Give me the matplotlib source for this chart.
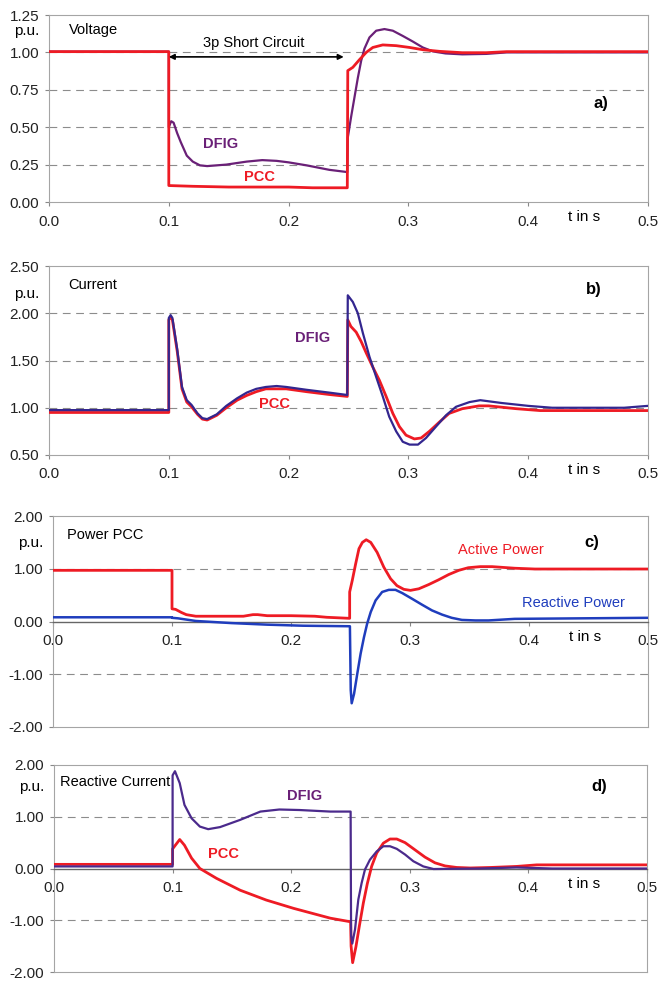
import matplotlib
matplotlib.use("Agg")
import matplotlib.pyplot as plt
import matplotlib.transforms as mtransforms

plt.rcParams['font.family'] = ['Liberation Sans', 'DejaVu Sans']
plt.rcParams['axes.unicode_minus'] = False

RED = '#ee1b24'
PURPLE = '#6a2077'
DBLUE = '#33268f'
BLUE = '#1f3dbd'

# ---- a) voltage ----
t_v_pcc = [0, 0.1, 0.1, 0.12, 0.15, 0.2, 0.22, 0.249, 0.2494, 0.2536, 0.259, 0.2648, 0.2703, 0.2786, 0.2898,
           0.301, 0.312, 0.326, 0.345, 0.365, 0.382, 0.5]
v_pcc = [1.005, 1.005, 0.11, 0.105, 0.10, 0.10, 0.095, 0.095, 0.878, 0.90, 0.95, 1.0, 1.033, 1.05, 1.045,
         1.033, 1.018, 1.007, 0.998, 0.998, 1.005, 1.005]

t_v_dfig = [0, 0.1, 0.1, 0.102, 0.104, 0.107, 0.110, 0.115, 0.12, 0.126, 0.132, 0.148, 0.165, 0.178, 0.19, 0.2,
            0.215, 0.234, 0.249, 0.2494, 0.2522, 0.255, 0.2578, 0.2606, 0.2633, 0.2675, 0.2731, 0.28, 0.287,
            0.2953, 0.3036, 0.312, 0.3203, 0.331, 0.345, 0.365, 0.382, 0.5]
v_dfig = [1.005, 1.005, 0.50, 0.54, 0.53, 0.46, 0.40, 0.31, 0.27, 0.245, 0.24, 0.25, 0.27, 0.28, 0.275, 0.265,
          0.245, 0.215, 0.20, 0.43, 0.57, 0.70, 0.83, 0.945, 1.025, 1.10, 1.145, 1.156, 1.145,
          1.11, 1.073, 1.033, 1.007, 0.993, 0.987, 0.99, 1.0, 1.0]

# ---- b) current ----
t_i_pcc = [0, 0.1, 0.1, 0.1015, 0.103, 0.107, 0.111, 0.115, 0.119, 0.124, 0.128, 0.132, 0.14, 0.148, 0.157,
           0.165, 0.173, 0.181, 0.19, 0.198, 0.215, 0.234, 0.249, 0.2494, 0.252, 0.2564, 0.2606, 0.2648, 0.2703,
           0.2758, 0.2814, 0.287, 0.2925, 0.298, 0.305, 0.3106, 0.3175, 0.326, 0.334, 0.345, 0.359, 0.367,
           0.39, 0.41, 0.5]
i_pcc = [0.95, 0.95, 1.93, 1.96, 1.93, 1.60, 1.20, 1.06, 1.01, 0.93, 0.88, 0.87, 0.92, 1.00, 1.08,
         1.13, 1.17, 1.20, 1.20, 1.20, 1.17, 1.14, 1.12, 1.93, 1.86, 1.80, 1.70, 1.58, 1.43,
         1.29, 1.12, 0.94, 0.80, 0.71, 0.67, 0.68, 0.75, 0.85, 0.94, 0.99, 1.02, 1.02,
         0.99, 0.97, 0.97]

t_i_dfig = [0, 0.1, 0.1, 0.1015, 0.103, 0.107, 0.111, 0.115, 0.119, 0.124, 0.128, 0.132, 0.14, 0.148, 0.157,
            0.165, 0.173, 0.181, 0.19, 0.198, 0.215, 0.234, 0.249, 0.2494, 0.2536, 0.2578, 0.262, 0.2675, 0.273,
            0.2786, 0.284, 0.2898, 0.2953, 0.301, 0.308, 0.3147, 0.323, 0.3314, 0.3397, 0.351, 0.36, 0.378,
            0.4, 0.42, 0.48, 0.5]
i_dfig = [0.975, 0.975, 1.95, 1.98, 1.95, 1.62, 1.22, 1.08, 1.03, 0.94, 0.89, 0.88, 0.93, 1.02, 1.10,
          1.16, 1.20, 1.22, 1.23, 1.22, 1.19, 1.16, 1.135, 2.19, 2.12, 2.0, 1.79, 1.54, 1.33,
          1.12, 0.905, 0.75, 0.64, 0.61, 0.61, 0.68, 0.80, 0.92, 1.01, 1.06, 1.08, 1.05,
          1.02, 1.0, 1.0, 1.02]

# ---- c) power PCC ----
t_p = [0, 0.1, 0.1, 0.103, 0.108, 0.112, 0.12, 0.14, 0.16, 0.168, 0.172, 0.18, 0.2, 0.22, 0.23, 0.2493, 0.2493,
       0.2515, 0.2543, 0.2571, 0.26, 0.2632, 0.267, 0.2724, 0.278, 0.2837, 0.289, 0.2948, 0.3004, 0.3074,
       0.3157, 0.324, 0.3325, 0.341, 0.349, 0.359, 0.369, 0.388, 0.405, 0.5]
p_act = [0.97, 0.97, 0.24, 0.23, 0.17, 0.13, 0.10, 0.10, 0.10, 0.13, 0.13, 0.11, 0.11, 0.10, 0.08, 0.06, 0.56,
         0.78, 1.09, 1.38, 1.50, 1.55, 1.50, 1.31, 1.03, 0.81, 0.68, 0.61, 0.59, 0.62,
         0.70, 0.79, 0.89, 0.97, 1.02, 1.04, 1.04, 1.01, 0.995, 0.995]

t_q = [0, 0.1, 0.1, 0.105, 0.12, 0.15, 0.18, 0.21, 0.2495, 0.2502, 0.251, 0.253, 0.2557, 0.2585, 0.2613, 0.264,
       0.267, 0.2711, 0.2766, 0.2822, 0.2878, 0.2934, 0.3018, 0.31, 0.3185, 0.327, 0.335, 0.3436, 0.355,
       0.366, 0.388, 0.5]
q_react = [0.08, 0.08, 0.07, 0.06, 0.01, -0.03, -0.06, -0.08, -0.09, -1.30, -1.55, -1.37, -0.99, -0.61, -0.30,
           -0.04, 0.18, 0.40, 0.56, 0.60, 0.60, 0.54, 0.43, 0.32, 0.21, 0.13, 0.07, 0.03, 0.02,
           0.02, 0.05, 0.07]

# ---- d) reactive current ----
t_iq_dfig = [0, 0.1, 0.1, 0.102, 0.106, 0.110, 0.116, 0.123, 0.13, 0.14, 0.157, 0.174, 0.19, 0.207, 0.233, 0.2501,
             0.2505, 0.2515, 0.2538, 0.2566, 0.2594, 0.2622, 0.2664, 0.2721, 0.2777, 0.2833, 0.289, 0.296, 0.303,
             0.3114, 0.32, 0.359, 0.39, 0.42, 0.5]
iq_dfig = [0.04, 0.04, 1.80, 1.88, 1.65, 1.23, 0.97, 0.81, 0.76, 0.80, 0.94, 1.10, 1.14, 1.13, 1.10, 1.10,
           -1.30, -1.45, -1.18, -0.60, -0.28, -0.02, 0.17, 0.33, 0.43, 0.43, 0.38, 0.27, 0.14,
           0.04, -0.01, 0.0, 0.02, 0.0, 0.0]

t_iq_pcc = [0, 0.1, 0.1, 0.106, 0.110, 0.116, 0.123, 0.137, 0.157, 0.179, 0.202, 0.233, 0.2501, 0.2505, 0.2518,
            0.2546, 0.2574, 0.2608, 0.2642, 0.2678, 0.2721, 0.2777, 0.2833, 0.289, 0.296, 0.3044, 0.3128, 0.3212,
            0.3297, 0.3395, 0.351, 0.368, 0.39, 0.407, 0.5]
iq_pcc = [0.08, 0.08, 0.38, 0.56, 0.45, 0.20, 0.0, -0.19, -0.42, -0.61, -0.77, -0.96, -1.03, -1.5, -1.82,
          -1.51, -1.12, -0.67, -0.29, 0.04, 0.30, 0.49, 0.57, 0.57, 0.50, 0.36, 0.22, 0.11,
          0.05, 0.02, 0.01, 0.02, 0.04, 0.07, 0.07]

x_ticks = [0.0, 0.1, 0.2, 0.3, 0.4, 0.5]
x_labels = ['0.0', '0.1', '0.2', '0.3', '0.4', '0.5']

W, H = 658, 982
fig = plt.figure(figsize=(W / 100, H / 100), dpi=100)


def box(l, r, top, bot):
    return [l / W, (H - bot) / H, (r - l) / W, (bot - top) / H]


def style(ax, ylim, yticks, grid, zero_axis=False):
    ax.set_xlim(0, 0.5)
    ax.set_ylim(*ylim)
    ax.set_yticks(yticks)
    ax.set_yticklabels(['%.2f' % v for v in yticks])
    ax.set_xticks(x_ticks)
    ax.set_xticklabels(x_labels)
    ax.set_xticks([0.447], labels=['t in s'], minor=True)
    ax.tick_params(axis='x', which='minor', length=0, labelsize=11, pad=6)
    ax.tick_params(axis='both', which='major', labelsize=11, length=3, width=0.8,
                   color='#888888', colors='#222222')
    ax.tick_params(axis='x', which='major', pad=6)
    ax.tick_params(axis='y', pad=4)
    for s in ax.spines.values():
        s.set_color('#a5a5a5')
        s.set_linewidth(0.8)
    for g in grid:
        ax.axhline(g, color='#8c8c8c', lw=0.8, ls=(0, (7, 5)), zorder=1)
    if zero_axis:
        ax.spines['bottom'].set_position(('data', 0))
        ax.spines['bottom'].set_color('#666666')
        ax.spines['bottom'].set_linewidth(1.0)
        ax.plot([0, 1], [0, 0], transform=ax.transAxes, color='#a5a5a5', lw=0.8, clip_on=False)
    trans = mtransforms.blended_transform_factory(ax.transAxes, ax.transData)
    return trans


# panel a
ax = fig.add_axes(box(49, 648, 15, 202))
tr = style(ax, (0, 1.25), [0, 0.25, 0.5, 0.75, 1.0, 1.25], [0.25, 0.5, 0.75, 1.0])
ax.plot(t_v_dfig, v_dfig, color=PURPLE, lw=1.6, zorder=3)
ax.plot(t_v_pcc, v_pcc, color=RED, lw=2.0, zorder=4)
ax.text(-0.016, 1.14, 'p.u.', transform=tr, ha='right', va='center', fontsize=11)
ax.text(0.017, 1.15, 'Voltage', fontsize=10.5, va='center')
ax.annotate('', xy=(0.1, 0.97), xytext=(0.246, 0.97),
            arrowprops=dict(arrowstyle='<|-|>', color='black', lw=1.2, mutation_scale=8,
                            shrinkA=0, shrinkB=0), zorder=5)
ax.text(0.171, 1.06, '3p Short Circuit', fontsize=10.5, ha='center', va='center')
ax.text(0.143, 0.39, 'DFIG', color=PURPLE, fontsize=10.5, fontweight='bold', ha='center', va='center')
ax.text(0.176, 0.17, 'PCC', color=RED, fontsize=10.5, fontweight='bold', ha='center', va='center')
ax.text(0.461, 0.66, 'a)', fontsize=12, fontweight='bold', ha='center', va='center')

# panel b
ax = fig.add_axes(box(49, 648, 266, 455))
tr = style(ax, (0.5, 2.5), [0.5, 1.0, 1.5, 2.0, 2.5], [1.0, 1.5, 2.0])
ax.plot(t_i_pcc, i_pcc, color=RED, lw=2.0, zorder=3)
ax.plot(t_i_dfig, i_dfig, color=DBLUE, lw=1.6, zorder=4)
ax.text(-0.016, 2.2, 'p.u.', transform=tr, ha='right', va='center', fontsize=11)
ax.text(0.016, 2.30, 'Current', fontsize=10.5, va='center')
ax.text(0.22, 1.74, 'DFIG', color=PURPLE, fontsize=10.5, fontweight='bold', ha='center', va='center')
ax.text(0.188, 1.04, 'PCC', color=RED, fontsize=10.5, fontweight='bold', ha='center', va='center')
ax.text(0.455, 2.25, 'b)', fontsize=12, fontweight='bold', ha='center', va='center')

# panel c
ax = fig.add_axes(box(53, 648, 516, 727))
tr = style(ax, (-2, 2), [-2, -1, 0, 1, 2], [1.0, -1.0], zero_axis=True)
ax.plot(t_p, p_act, color=RED, lw=2.0, zorder=3)
ax.plot(t_q, q_react, color=BLUE, lw=1.8, zorder=4)
ax.text(-0.016, 1.49, 'p.u.', transform=tr, ha='right', va='center', fontsize=11)
ax.text(0.012, 1.64, 'Power PCC', fontsize=10.5, va='center')
ax.text(0.376, 1.35, 'Active Power', color=RED, fontsize=10.5, ha='center', va='center')
ax.text(0.437, 0.35, 'Reactive Power', color=BLUE, fontsize=10.5, ha='center', va='center')
ax.text(0.453, 1.49, 'c)', fontsize=12, fontweight='bold', ha='center', va='center')

# panel d
ax = fig.add_axes(box(54, 647, 765, 972))
tr = style(ax, (-2, 2), [-2, -1, 0, 1, 2], [1.0, -1.0], zero_axis=True)
ax.plot(t_iq_pcc, iq_pcc, color=RED, lw=2.0, zorder=3)
ax.plot(t_iq_dfig, iq_dfig, color='#4b2a8c', lw=1.6, zorder=4)
ax.text(-0.016, 1.58, 'p.u.', transform=tr, ha='right', va='center', fontsize=11)
ax.text(0.005, 1.68, 'Reactive Current', fontsize=10.5, va='center')
ax.text(0.211, 1.40, 'DFIG', color=PURPLE, fontsize=10.5, fontweight='bold', ha='center', va='center')
ax.text(0.143, 0.28, 'PCC', color=RED, fontsize=10.5, fontweight='bold', ha='center', va='center')
ax.text(0.46, 1.59, 'd)', fontsize=12, fontweight='bold', ha='center', va='center')

fig.savefig('out.png', dpi=100)
